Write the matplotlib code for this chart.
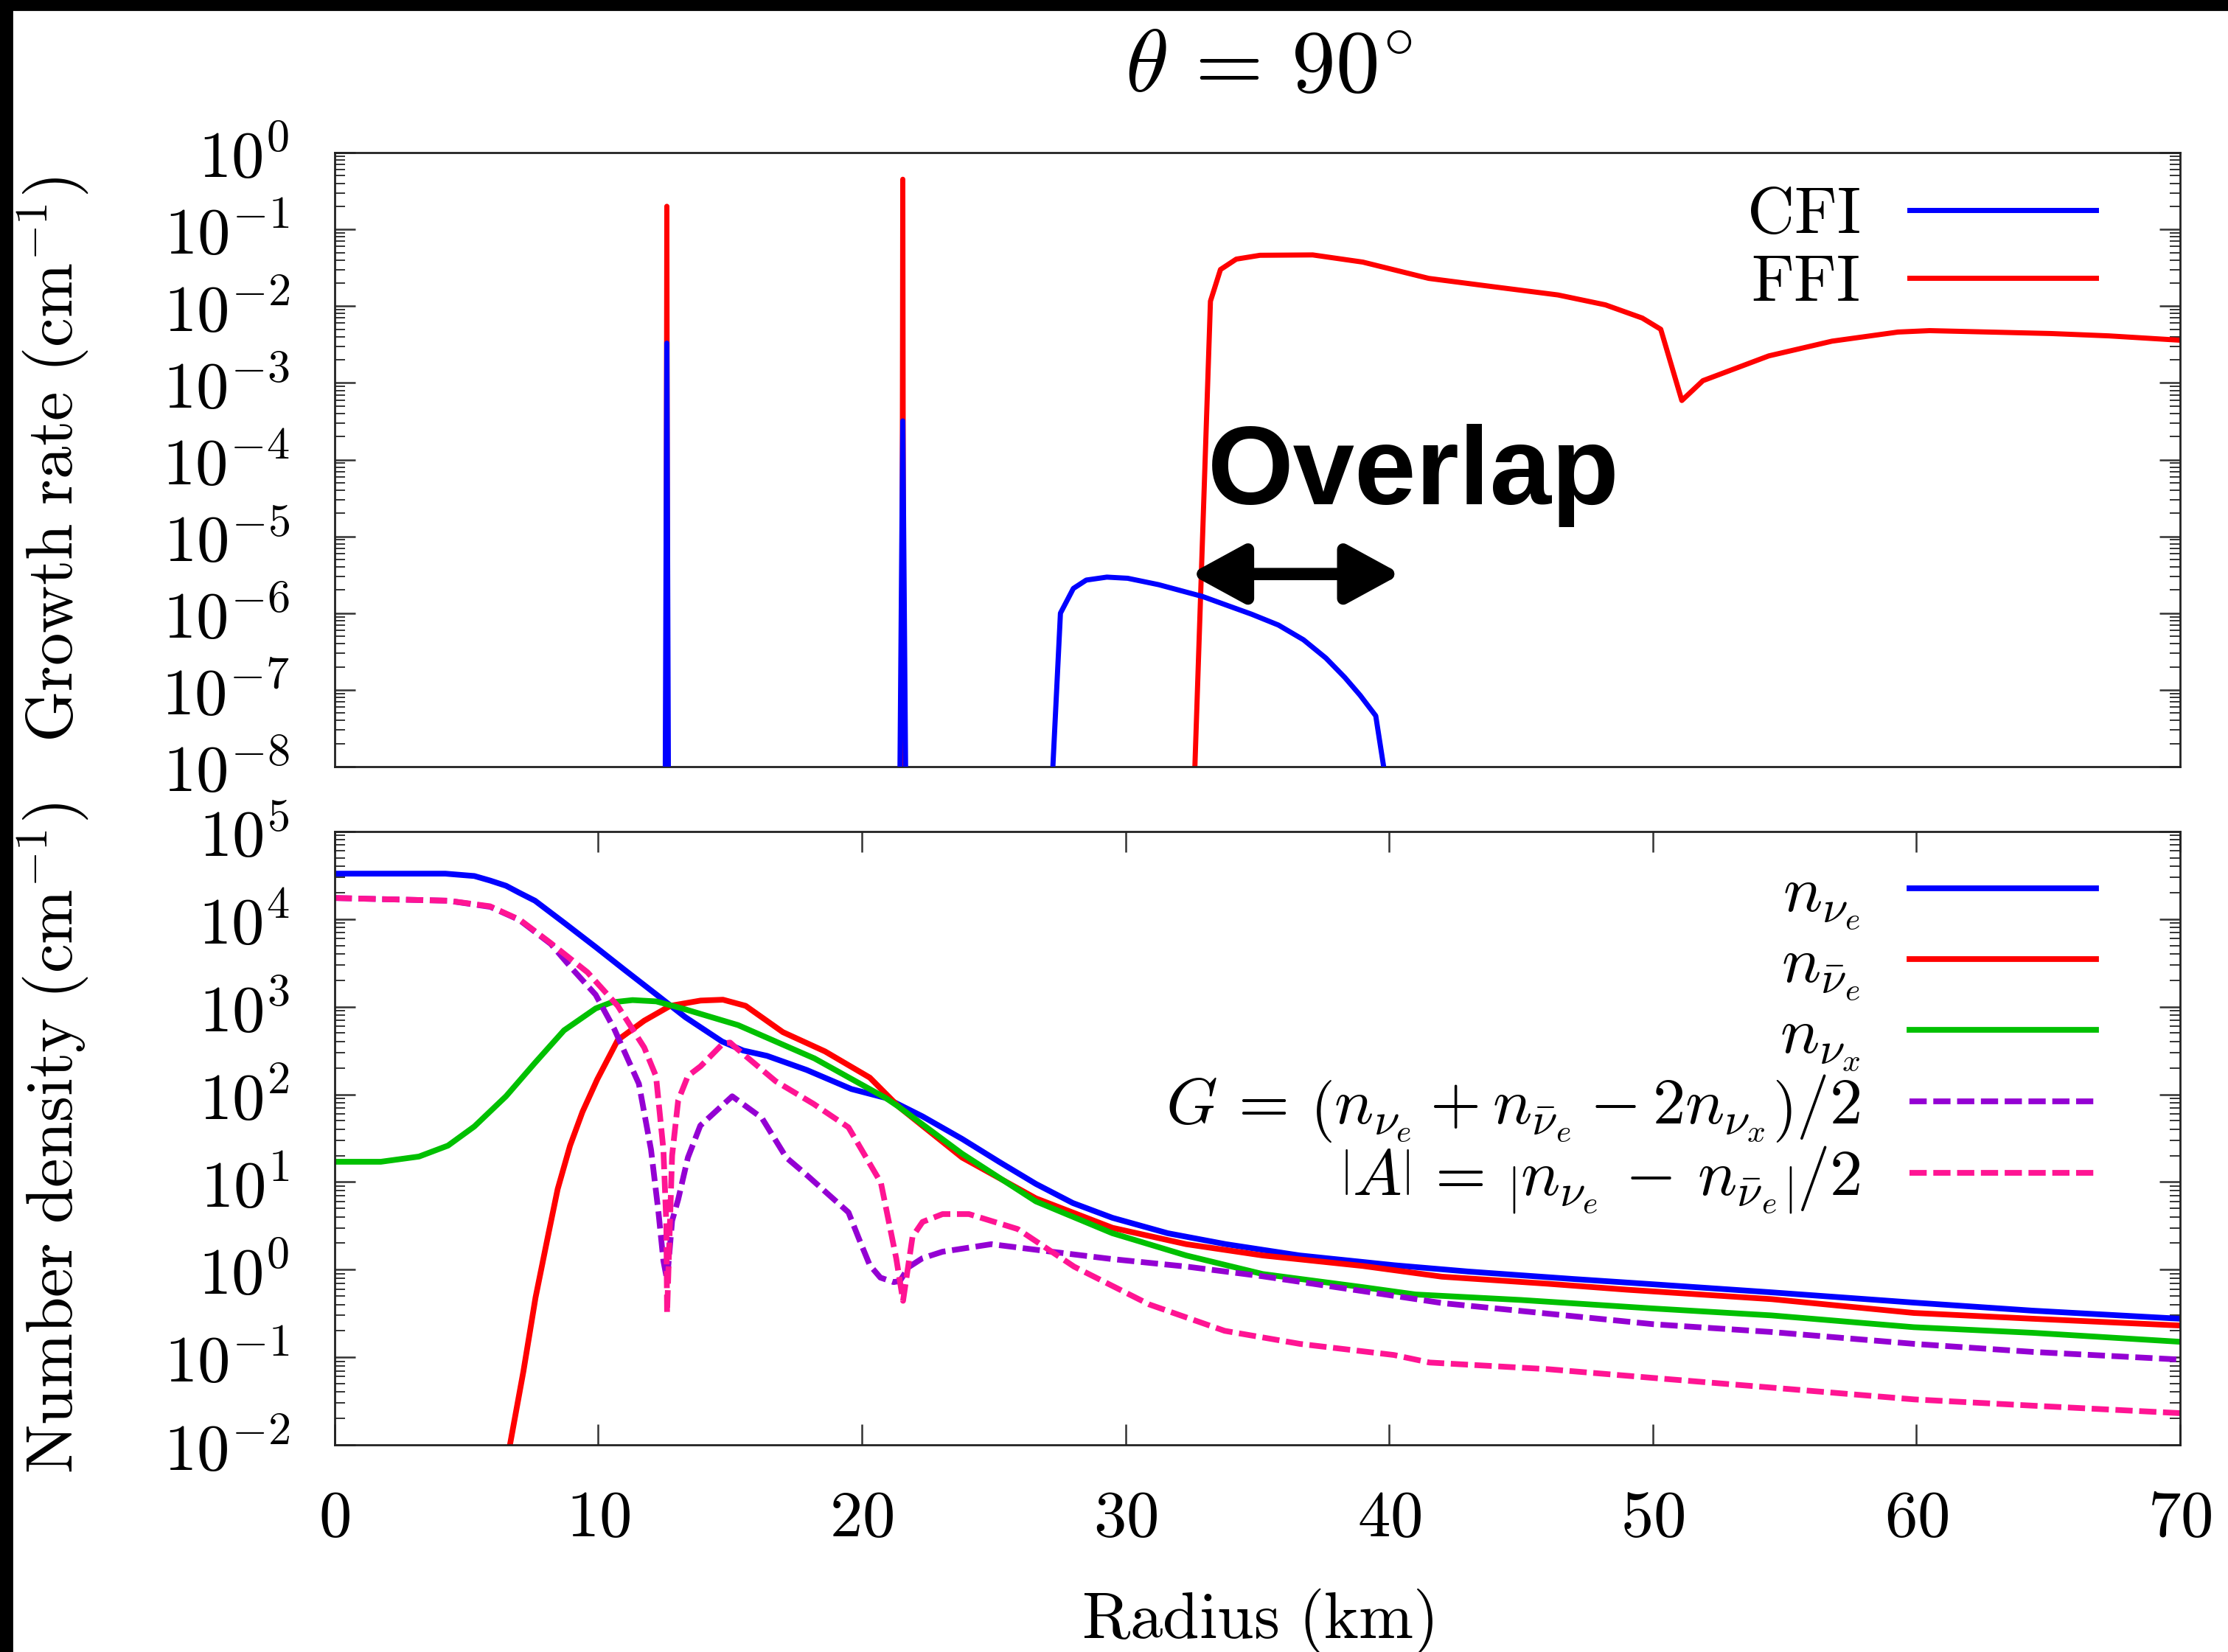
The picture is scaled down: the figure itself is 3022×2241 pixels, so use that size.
import numpy as np
import matplotlib
matplotlib.use("Agg")
import matplotlib.pyplot as plt
from matplotlib.patches import Rectangle
from matplotlib.ticker import LogLocator, NullFormatter, FixedLocator, FuncFormatter

plt.rcParams['mathtext.fontset'] = 'cm'
plt.rcParams['font.family'] = ['DejaVu Serif']

# ---- growth rates (upper panel) ----
r_cfi = [0.0, 12.50, 12.60, 12.70, 21.35, 21.55, 21.75, 27.10, 27.20, 27.53,
         28.02, 28.51, 29.29, 30.08, 31.26, 32.92, 34.78, 35.80, 36.75, 37.60,
         38.32, 38.90, 39.49, 39.79, 39.90, 70.0]
cfi = [1e-12, 1e-12, 3.3e-3, 1e-12, 1e-12, 3.2e-4, 1e-12, 1e-12, 5e-9, 1.0e-6,
       2.1e-6, 2.7e-6, 2.95e-6, 2.85e-6, 2.35e-6, 1.65e-6, 9.7e-7, 7.0e-7,
       4.5e-7, 2.6e-7, 1.45e-7, 8.5e-8, 4.6e-8, 1.0e-8, 1e-12, 1e-12]

r_ffi = [0.0, 12.55, 12.60, 12.65, 21.50, 21.55, 21.60, 32.55, 32.63, 33.22,
         33.60, 34.20, 35.10, 37.10, 39.00, 41.50, 43.90, 46.40, 48.20, 49.60,
         50.30, 51.10, 51.90, 54.40, 56.80, 59.30, 60.50, 65.10, 67.30, 70.0]
ffi = [1e-12, 1e-12, 0.2, 1e-12, 1e-12, 0.45, 1e-12, 1e-12, 1e-8, 1.16e-2,
       3.0e-2, 4.1e-2, 4.6e-2, 4.65e-2, 3.75e-2, 2.3e-2, 1.8e-2, 1.4e-2,
       1.04e-2, 7.0e-3, 5.0e-3, 5.9e-4, 1.07e-3, 2.25e-3, 3.5e-3, 4.6e-3,
       4.8e-3, 4.4e-3, 4.1e-3, 3.6e-3]

# ---- number densities (lower panel) ----
r_nue = [0.0, 3.0, 4.2, 5.3, 5.9, 6.5, 7.0, 7.6, 8.7, 9.9, 11.0, 12.2, 13.3,
         14.7, 15.5, 16.4, 17.9, 19.6, 20.9, 22.3, 23.8, 25.2, 26.6, 28.0, 29.5,
         31.6, 33.8, 36.6, 40.2, 43.0, 47.0, 50.0, 54.5, 59.9, 64.4, 70.0]
n_nue = [3.3e4, 3.3e4, 3.3e4, 3.1e4, 2.75e4, 2.4e4, 2.0e4, 1.62e4, 9.1e3,
         4.8e3, 2.63e3, 1.38e3, 760, 400, 316, 275, 190, 115, 91, 56, 31, 17,
         9.5, 5.75, 3.9, 2.6, 1.95, 1.45, 1.12, 0.95, 0.78, 0.68, 0.55, 0.42,
         0.34, 0.275]

r_anue = [6.4, 6.65, 7.16, 7.62, 8.09, 8.46, 8.93, 9.4, 9.96, 10.74, 11.74,
          12.73, 13.88, 14.73, 15.59, 17.0, 18.6, 20.3, 21.4, 23.8, 26.6, 29.5,
          32.3, 35.2, 39.0, 42.0, 46.0, 49.0, 54.5, 59.9, 64.4, 70.0]
n_anue = [0.0039, 0.01, 0.069, 0.48, 2.4, 8.3, 26, 63, 148, 417, 692, 1023,
          1175, 1202, 1023, 513, 309, 155, 72, 19, 6.5, 3.0, 1.95, 1.45, 1.1,
          0.83, 0.69, 0.59, 0.46, 0.32, 0.275, 0.23]

r_nux = [0.0, 1.75, 3.2, 4.3, 5.3, 6.5, 7.6, 8.7, 9.9, 10.5, 11.3, 12.2, 13.3,
         15.3, 18.2, 20.9, 21.4, 23.8, 26.6, 29.5, 32.3, 35.2, 39.0, 41.0, 45.0,
         50.0, 54.5, 59.9, 64.4, 70.0]
n_nux = [17, 17, 19.5, 26, 43, 95, 229, 537, 955, 1120, 1190, 1150, 933, 617,
         257, 91, 72, 21, 6.0, 2.6, 1.45, 0.89, 0.63, 0.52, 0.45, 0.36, 0.30,
         0.22, 0.19, 0.15]

r_g = [0.0, 4.3, 5.9, 7.0, 8.2, 9.0, 9.9, 10.6, 11.54, 12.0, 12.28, 12.47,
       12.61, 12.8, 13.03, 13.4, 13.87, 15.08, 16.2, 17.13, 17.88, 18.73, 19.49,
       19.9, 20.3, 20.7, 21.2, 21.44, 21.78, 22.3, 23.06, 24.91, 26.62, 29.47,
       32.33, 35.18, 39.04, 42.03, 46.03, 50.02, 54.5, 59.91, 64.4, 70.0]
g_val = [1.74e4, 1.62e4, 1.38e4, 9.8e3, 5.2e3, 2.73e3, 1.37e3, 562, 132, 23.4,
         4.6, 1.26, 0.76, 3.6, 6.3, 19, 44, 95, 54, 19, 12.2, 7.2, 4.5, 2.2,
         1.12, 0.81, 0.72, 0.74, 1.07, 1.35, 1.6, 1.95, 1.68, 1.32, 1.08, 0.84,
         0.565, 0.414, 0.314, 0.238, 0.194, 0.142, 0.115, 0.094]

r_a = [0.0, 4.32, 5.89, 7.03, 8.17, 9.59, 10.74, 11.74, 12.19, 12.47, 12.58,
       12.61, 12.8, 13.03, 13.4, 13.88, 14.73, 15.0, 15.3, 16.73, 18.16, 19.49,
       20.72, 21.3, 21.56, 21.92, 22.3, 23.06, 24.06, 25.91, 28.05, 30.9,
       33.76, 36.61, 40.18, 41.53, 46.03, 50.02, 54.5, 59.91, 64.4, 70.0]
a_val = [1.74e4, 1.62e4, 1.40e4, 9.8e3, 5.4e3, 2.47e3, 1.02e3, 343, 161, 23.4,
         3.4, 0.32, 20, 85, 162, 209, 380, 390, 324, 141, 78, 42, 9.8, 1.35,
         0.44, 2.38, 3.5, 4.3, 4.3, 2.9, 1.08, 0.40, 0.20, 0.142, 0.106, 0.087,
         0.073, 0.058, 0.045, 0.033, 0.028, 0.023]

x_ticks = [0, 10, 20, 30, 40, 50, 60, 70]

FS = 32
LFS = 32
tick_col = '#333333'

log_fmt = FuncFormatter(lambda v, p: r'$10^{%d}$' % int(round(np.log10(v))))
int_fmt = FuncFormatter(lambda v, p: r'$%d$' % int(round(v)))


def style_axis(ax, ylo, yhi):
    ax.set_yscale('log')
    ax.set_xlim(0, 70)
    ax.set_ylim(ylo, yhi)
    ax.yaxis.set_major_locator(LogLocator(base=10, numticks=100))
    ax.yaxis.set_minor_locator(LogLocator(base=10, subs=np.arange(2, 10) * 1.0,
                                          numticks=100))
    ax.yaxis.set_major_formatter(log_fmt)
    ax.yaxis.set_minor_formatter(NullFormatter())
    ax.tick_params(axis='y', which='both', direction='in', left=True,
                   right=True, labelsize=FS, pad=22, color=tick_col)
    ax.tick_params(axis='y', which='major', length=10, width=0.9)
    ax.tick_params(axis='y', which='minor', length=5, width=0.7)
    for sp in ax.spines.values():
        sp.set_linewidth(1.0)
        sp.set_color('#222222')


fig = plt.figure(figsize=(15.11, 11.205), dpi=200)
ax1 = fig.add_axes([0.1502, 0.5359, 0.8283, 0.3717])
ax2 = fig.add_axes([0.1502, 0.1254, 0.8283, 0.3713])

# upper panel
style_axis(ax1, 1e-8, 1e0)
ax1.tick_params(axis='x', which='both', bottom=False, top=False,
                labelbottom=False)
l_ffi, = ax1.plot(r_ffi, ffi, color='#ff0000', lw=2.5, zorder=2)
l_cfi, = ax1.plot(r_cfi, cfi, color='#0000ff', lw=2.5, zorder=3)
ax1.legend([l_cfi, l_ffi], [r'$\mathrm{CFI}$', r'$\mathrm{FFI}$'],
           loc='upper right', bbox_to_anchor=(0.9545, 0.951), frameon=False,
           markerfirst=False, fontsize=LFS, handlelength=2.85,
           handletextpad=0.75, labelspacing=0.05, borderpad=0,
           borderaxespad=0)
ax1.set_ylabel(r'$\mathrm{Growth\ rate\ (cm^{-1})}$', fontsize=LFS)
ax1.yaxis.set_label_coords(-0.132, 0.5)

ax1.text(33.1, 10 ** -4.58, 'Overlap', fontsize=54, fontweight='bold',
         family='Liberation Sans', ha='left', va='baseline', zorder=5)
ax1.annotate('', xy=(40.45, 10 ** -5.49), xytext=(32.45, 10 ** -5.49),
             arrowprops=dict(arrowstyle='<|-|>,head_length=1.1,head_width=0.6',
                             lw=6, color='black', shrinkA=0, shrinkB=0,
                             mutation_scale=20), zorder=5)

# lower panel
style_axis(ax2, 1e-2, 1e5)
ax2.xaxis.set_major_locator(FixedLocator(x_ticks))
ax2.xaxis.set_major_formatter(int_fmt)
ax2.tick_params(axis='x', which='major', direction='in', bottom=True,
                top=True, length=10, width=0.9, color=tick_col,
                labelsize=FS, pad=20)
ax2.tick_params(axis='x', which='minor', bottom=False, top=False)

lw2 = 2.8
dash = (3.0, 1.15)
h1, = ax2.plot(r_nue, n_nue, color='#0000ff', lw=lw2)
h2, = ax2.plot(r_anue, n_anue, color='#ff0000', lw=lw2)
h3, = ax2.plot(r_nux, n_nux, color='#00c000', lw=lw2)
h4, = ax2.plot(r_g, g_val, color='#9400d3', lw=lw2, ls=(0, dash))
h5, = ax2.plot(r_a, a_val, color='#ff1493', lw=lw2, ls=(0, dash))

labels = [r'$n_{\nu_e}$', r'$n_{\bar{\nu}_e}$', r'$n_{\nu_x}$',
          r'$G\,=\,\left(n_{\nu_e}+n_{\bar{\nu}_e}-2n_{\nu_x}\right)/2$',
          r'$\left|A\right|\,=\,\left|n_{\nu_e}\,-\,n_{\bar{\nu}_e}\right|/2$']
ax2.legend([h1, h2, h3, h4, h5], labels, loc='upper right',
           bbox_to_anchor=(0.9545, 0.952), frameon=False, markerfirst=False,
           fontsize=LFS, handlelength=2.85, handletextpad=0.75,
           labelspacing=0.0, borderpad=0, borderaxespad=0)

ax2.set_ylabel(r'$\mathrm{Number\ density\ (cm^{-1})}$', fontsize=LFS)
ax2.yaxis.set_label_coords(-0.132, 0.5)
ax2.set_xlabel(r'$\mathrm{Radius\ (km)}$', fontsize=LFS)
ax2.xaxis.set_label_coords(0.5, -0.232)

fig.text(1721 / 3022, 1 - 91 / 2241, r'$\theta\,=\,90^{\circ}$', fontsize=43,
         ha='center', va='center')

# screenshot border on the left and top
fig.patches.append(Rectangle((0, 0), 16 / 3022, 1, transform=fig.transFigure,
                             color='black', zorder=10))
fig.patches.append(Rectangle((0, 1 - 13 / 2241), 1, 13 / 2241,
                             transform=fig.transFigure, color='black',
                             zorder=10))

fig.savefig('out.png', dpi=200)
